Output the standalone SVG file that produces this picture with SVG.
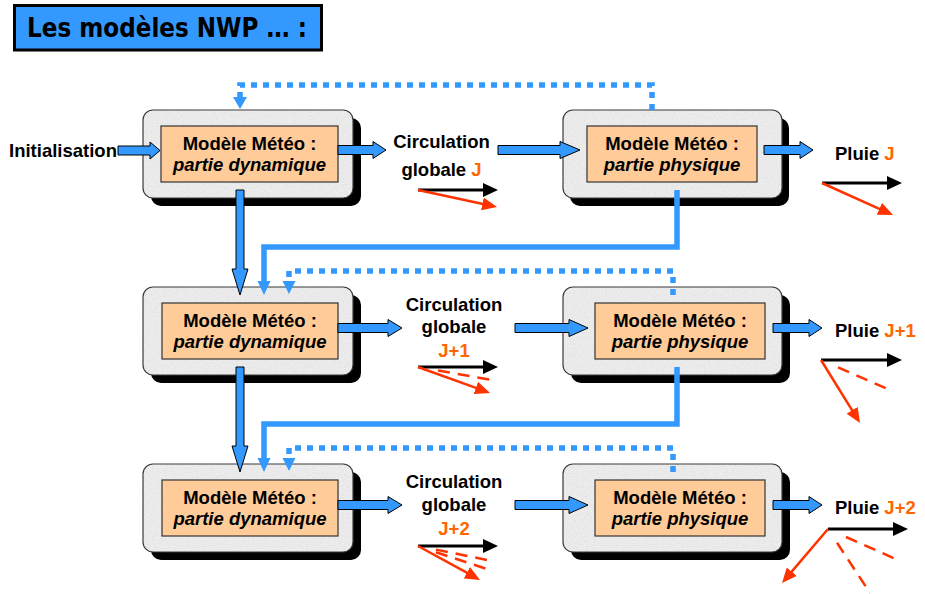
<svg xmlns="http://www.w3.org/2000/svg" width="925" height="594" viewBox="0 0 925 594">
<defs>
<style>
.t{font-family:"Liberation Sans",Arial,sans-serif;font-weight:bold;font-size:18.5px;fill:#000}
.i{font-style:italic}
.o{fill:#FF6600}
.shadow{fill:#000}
.gfill{fill:#ededed}
.gline{fill:none;stroke:#3a3a3a;stroke-width:1.2}
.inner{fill:#FFCC99;stroke:#333;stroke-width:1.2}
.blk{fill:#3399FF;stroke:#000;stroke-width:1}
.solid{fill:none;stroke:#3399FF;stroke-width:5.5}
.dot{fill:none;stroke:#3399FF;stroke-width:5.5;stroke-dasharray:6 6}
.tri{fill:#3399FF}
.va{stroke:#000;stroke-width:3;fill:none;marker-end:url(#mb)}
.ra{stroke:#FF3300;stroke-width:2.5;fill:none;marker-end:url(#mr)}
.rd{stroke:#FF3300;stroke-width:2.5;fill:none;stroke-dasharray:12 8}
</style>
<filter id="granite" x="0" y="0" width="1" height="1">
<feTurbulence type="fractalNoise" baseFrequency="0.9" numOctaves="2" seed="7" result="n"/>
<feColorMatrix in="n" type="matrix" values="0 0 0 0 0.45  0 0 0 0 0.45  0 0 0 0 0.45  0.7 0 0 0 -0.3" result="s"/>
<feComposite in="s" in2="SourceGraphic" operator="in" result="c"/>
<feMerge><feMergeNode in="SourceGraphic"/><feMergeNode in="c"/></feMerge>
</filter>
<marker id="mb" markerUnits="userSpaceOnUse" viewBox="0 0 15 14" markerWidth="15" markerHeight="14" refX="3" refY="7" orient="auto"><path d="M0,0 L15,7 L0,14 z" fill="#000"/></marker>
<marker id="mr" markerUnits="userSpaceOnUse" viewBox="0 0 15 13" markerWidth="15" markerHeight="13" refX="3" refY="6.5" orient="auto"><path d="M0,0 L15,6.5 L0,13 z" fill="#FF3300"/></marker>
</defs>
<rect width="925" height="594" fill="#fff"/>

<g id="title">
<rect x="14.5" y="5.5" width="307" height="44.5" fill="#3399FF" stroke="#000" stroke-width="3"/>
<text x="27" y="37" font-family="DejaVu Sans,sans-serif" font-weight="bold" font-size="26" textLength="280" lengthAdjust="spacingAndGlyphs">Les modèles NWP … :</text>
</g>

<g id="dyn1">
<rect class="shadow" x="151" y="118" width="210" height="88" rx="10"/>
<rect class="gfill" filter="url(#granite)" x="143" y="110" width="210" height="88" rx="10"/>
<rect class="gline" x="143" y="110" width="210" height="88" rx="10"/>
<rect class="inner" x="161" y="126" width="177" height="56"/>
<text class="t" x="249.5" y="150" text-anchor="middle">Modèle Météo :</text>
<text class="t i" x="249.5" y="171" text-anchor="middle">partie dynamique</text>
</g>
<g id="phys1">
<rect class="shadow" x="570" y="118" width="219" height="88" rx="10"/>
<rect class="gfill" filter="url(#granite)" x="563" y="110" width="219" height="88" rx="10"/>
<rect class="gline" x="563" y="110" width="219" height="88" rx="10"/>
<rect class="inner" x="587" y="126" width="170" height="56"/>
<text class="t" x="672" y="150" text-anchor="middle">Modèle Météo :</text>
<text class="t i" x="672" y="171" text-anchor="middle">partie physique</text>
</g>
<g id="dyn2">
<rect class="shadow" x="151" y="295" width="210" height="88" rx="10"/>
<rect class="gfill" filter="url(#granite)" x="143" y="287" width="210" height="88" rx="10"/>
<rect class="gline" x="143" y="287" width="210" height="88" rx="10"/>
<rect class="inner" x="162" y="303" width="176" height="56"/>
<text class="t" x="250" y="327" text-anchor="middle">Modèle Météo :</text>
<text class="t i" x="250" y="348" text-anchor="middle">partie dynamique</text>
</g>
<g id="phys2">
<rect class="shadow" x="571" y="295" width="219" height="88" rx="10"/>
<rect class="gfill" filter="url(#granite)" x="563" y="287" width="219" height="88" rx="10"/>
<rect class="gline" x="563" y="287" width="219" height="88" rx="10"/>
<rect class="inner" x="595" y="303" width="170" height="56"/>
<text class="t" x="680" y="327" text-anchor="middle">Modèle Météo :</text>
<text class="t i" x="680" y="348" text-anchor="middle">partie physique</text>
</g>
<g id="dyn3">
<rect class="shadow" x="151" y="472" width="210" height="88" rx="10"/>
<rect class="gfill" filter="url(#granite)" x="143" y="464" width="210" height="88" rx="10"/>
<rect class="gline" x="143" y="464" width="210" height="88" rx="10"/>
<rect class="inner" x="162" y="480" width="176" height="56"/>
<text class="t" x="250" y="504" text-anchor="middle">Modèle Météo :</text>
<text class="t i" x="250" y="525" text-anchor="middle">partie dynamique</text>
</g>
<g id="phys3">
<rect class="shadow" x="571" y="472" width="219" height="88" rx="10"/>
<rect class="gfill" filter="url(#granite)" x="563" y="464" width="219" height="88" rx="10"/>
<rect class="gline" x="563" y="464" width="219" height="88" rx="10"/>
<rect class="inner" x="595" y="480" width="170" height="56"/>
<text class="t" x="680" y="504" text-anchor="middle">Modèle Météo :</text>
<text class="t i" x="680" y="525" text-anchor="middle">partie physique</text>
</g>

<g id="init"><text class="t" x="9" y="157">Initialisation</text></g>
<g id="circ1">
<text class="t" x="441.5" y="148" text-anchor="middle">Circulation</text>
<text class="t" x="441.5" y="176" text-anchor="middle">globale <tspan class="o">J</tspan></text>
<line class="va" x1="418" y1="190" x2="486" y2="190"/>
<line class="ra" x1="418" y1="190" x2="485.3" y2="204.5"/>
</g>
<g id="pluie1">
<text class="t" x="835" y="160">Pluie <tspan class="o">J</tspan></text>
<line class="va" x1="822" y1="183" x2="890" y2="183"/>
<line class="ra" x1="822" y1="183" x2="882.1" y2="210.1"/>
</g>
<g id="circ2">
<text class="t" x="454" y="311" text-anchor="middle">Circulation</text>
<text class="t" x="454" y="333" text-anchor="middle">globale</text>
<text class="t o" x="454" y="357" text-anchor="middle">J+1</text>
<line class="va" x1="418" y1="367" x2="486" y2="367"/>
<line class="rd" x1="438" y1="370.5" x2="492" y2="380"/>
<line class="ra" x1="418" y1="367" x2="478.7" y2="388.9"/>
</g>
<g id="pluie2">
<text class="t" x="835" y="337">Pluie <tspan class="o">J+1</tspan></text>
<line class="va" x1="821" y1="360" x2="890" y2="360"/>
<line class="rd" x1="838" y1="367.4" x2="890" y2="390"/>
<line class="ra" x1="821" y1="360" x2="853.7" y2="412.8"/>
</g>
<g id="circ3">
<text class="t" x="454" y="488" text-anchor="middle">Circulation</text>
<text class="t" x="454" y="511" text-anchor="middle">globale</text>
<text class="t o" x="454" y="535" text-anchor="middle">J+2</text>
<line class="va" x1="418" y1="546" x2="486" y2="546"/>
<line class="rd" x1="436" y1="549.6" x2="492" y2="561"/>
<line class="rd" x1="436" y1="552.2" x2="490" y2="570"/>
<line class="ra" x1="418" y1="546" x2="469.5" y2="574.2"/>
</g>
<g id="pluie3">
<text class="t" x="835" y="514">Pluie <tspan class="o">J+2</tspan></text>
<line class="va" x1="828" y1="529" x2="896" y2="529"/>
<line class="rd" x1="846" y1="537" x2="898" y2="560"/>
<line class="rd" x1="837" y1="542.7" x2="870" y2="593"/>
<line class="ra" x1="828" y1="529" x2="789.8" y2="573.9"/>
</g>

<g id="connectors">
<path class="blk" d="M118,146 H150 V142 L160,150.5 L150,159 V155 H118 Z"/>
<path class="blk" d="M338,145.5 H373 V141.5 L386,150 L373,158.5 V154.5 H338 Z"/>
<path class="blk" d="M498,145.5 H560 V141.5 L580,150 L560,158.5 V154.5 H498 Z"/>
<path class="blk" d="M764,145.5 H800 V141.5 L813,150 L800,158.5 V154.5 H764 Z"/>
<path class="blk" d="M338,323.5 H388 V319.5 L402,328 L388,336.5 V332.5 H338 Z"/>
<path class="blk" d="M515,323.5 H569 V319.5 L588,328 L569,336.5 V332.5 H515 Z"/>
<path class="blk" d="M773,323.5 H809 V319.5 L822,328 L809,336.5 V332.5 H773 Z"/>
<path class="blk" d="M338,500.5 H388 V496.5 L402,505 L388,513.5 V509.5 H338 Z"/>
<path class="blk" d="M515,500.5 H569 V496.5 L588,505 L569,513.5 V509.5 H515 Z"/>
<path class="blk" d="M773,500.5 H809 V496.5 L822,505 L809,513.5 V509.5 H773 Z"/>
<path class="blk" d="M236,190 V269 H232 L240,295 L248,269 H244 V190 Z"/>
<path class="blk" d="M236,367 V446 H232 L240,472 L248,446 H244 V367 Z"/>
<path class="solid" d="M677,190 V247 H264 V282"/>
<polygon class="tri" points="257.5,281 270.5,281 264,295"/>
<path class="solid" d="M677,367 V424 H264 V459"/>
<polygon class="tri" points="257.5,458 270.5,458 264,472"/>
<path class="dot" d="M652,110 V85 H240 V97"/>
<polygon class="tri" points="233,97 247,97 240,109"/>
<path class="dot" d="M673,295 V271 H289 V281"/>
<polygon class="tri" points="282.5,281 295.5,281 289,294"/>
<path class="dot" d="M673,472 V448 H289 V458"/>
<polygon class="tri" points="282.5,458 295.5,458 289,471"/>
</g>
</svg>
